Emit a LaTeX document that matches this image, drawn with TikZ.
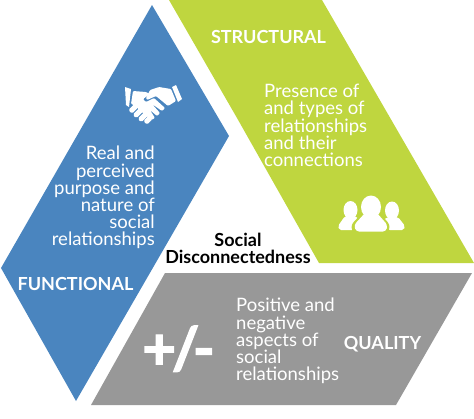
\documentclass[tikz,border=0pt]{standalone}
\usepackage{fontspec}
\setmainfont{Lato}
\newfontfamily\pmfont[FakeBold=2.5]{Lato Bold}
\definecolor{bluefill}{HTML}{4A85BF}
\definecolor{greenfill}{HTML}{BFD63F}
\definecolor{grayfill}{HTML}{989898}
\begin{document}
\begin{tikzpicture}[x=1pt,y=-1pt,
  panel/.style={draw=none},
  body/.style={text=white,inner sep=0pt,font=\fontsize{18.5}{17.2}\selectfont},
  title/.style={text=white,inner sep=0pt,anchor=base,font=\fontsize{18}{18}\selectfont\bfseries},
  icon/.style={fill=white,draw=none}]
\useasboundingbox (0,0) rectangle (474,418);
\fill[bluefill] (152,5) -- (229,136) -- (76,401) -- (1,268) -- cycle;
\fill[greenfill] (169,0) -- (322,0) -- (474,263) -- (319,263) -- (237,118) -- cycle;
\fill[grayfill] (165,273) -- (472,273) -- (396,405) -- (91,405) -- cycle;
% texts
\node[body,align=right,anchor=north east] (ftext) at (155,146) {Real and\\perceived\\purpose and\\nature of\\social\\relationships};
\node[body,align=left,anchor=north west] (stext) at (264,84) {Presence of\\and types of\\relationships\\and their\\connections};
\node[body,align=left,anchor=north west] (qtext) at (236,298) {Positive and\\negative\\aspects of\\social\\relationships};
\node[title] (st) at (268.5,43) {STRUCTURAL};
\node[title] (fn) at (75.5,290) {FUNCTIONAL};
\node[title] (ql) at (382.5,349) {QUALITY};
\node[inner sep=0pt,anchor=north,align=center,text=black,font=\fontsize{18}{17}\selectfont\bfseries] (core) at (238,233) {Social\\Disconnectedness};
\node[text=white,inner sep=0pt,anchor=base,font=\fontsize{58}{58}\pmfont] (pm) at (178.5,369) {+\kern-4pt/\kern-6pt-};
% handshake
\fill[icon] (125,87) -- (131,89) -- (129,107) -- (126,105) -- cycle;
\fill[icon] (176,85) -- (182,99) -- (178,102) -- (172,87) -- cycle;
\fill[icon,rounded corners=1pt] (133,91) -- (146,92) -- (150,94) -- (143,99) -- (146,102) -- (154,98) -- (165,108) -- (162,111) -- (152,104) -- (160,113) -- (157,116) -- (150,110) -- (155,118) -- (151,120) -- (143,113) -- (134,105) -- (131,104) -- cycle;
\fill[icon,rounded corners=1pt] (150,90) -- (159,87) -- (171,89) -- (176,101) -- (168,106) -- (156,96) -- (147,100) -- (146,98) -- cycle;
\fill[icon,rotate around={45:(133,109)},rounded corners=1.5pt] (129,106.5) rectangle (138,111.5);
\fill[icon,rotate around={45:(138,113)},rounded corners=1.5pt] (133,110.5) rectangle (143,115.5);
\fill[icon,rotate around={45:(143,117)},rounded corners=1.5pt] (138,114.5) rectangle (148,119.5);
\fill[icon,rotate around={45:(148,120)},rounded corners=1.5pt] (144,117.5) rectangle (152,122.5);
% people
\fill[icon] (350.5,210) ellipse (7 and 9);
\fill[icon] (392,210.5) ellipse (7 and 9);
\fill[icon,rounded corners=2pt] (345,216) -- (356,216) -- (360,222) -- (354,230) -- (339,230) -- (338,226) -- cycle;
\fill[icon,rounded corners=2pt] (387,217) -- (398,217) -- (405,226) -- (404,230) -- (388,230) -- (382,222) -- cycle;
\fill[greenfill] (371,207) ellipse (12 and 13);
\fill[greenfill,rounded corners=3pt] (362,213) -- (380,213) -- (390,225) -- (388,233.5) -- (353,233.5) -- (351,225) -- cycle;
\fill[icon] (371,207) ellipse (10 and 11.5);
\fill[icon,rounded corners=3pt] (365,213) -- (377,213) -- (387.5,225) -- (386,231.5) -- (356,231.5) -- (354,225) -- cycle;
\end{tikzpicture}
\end{document}
